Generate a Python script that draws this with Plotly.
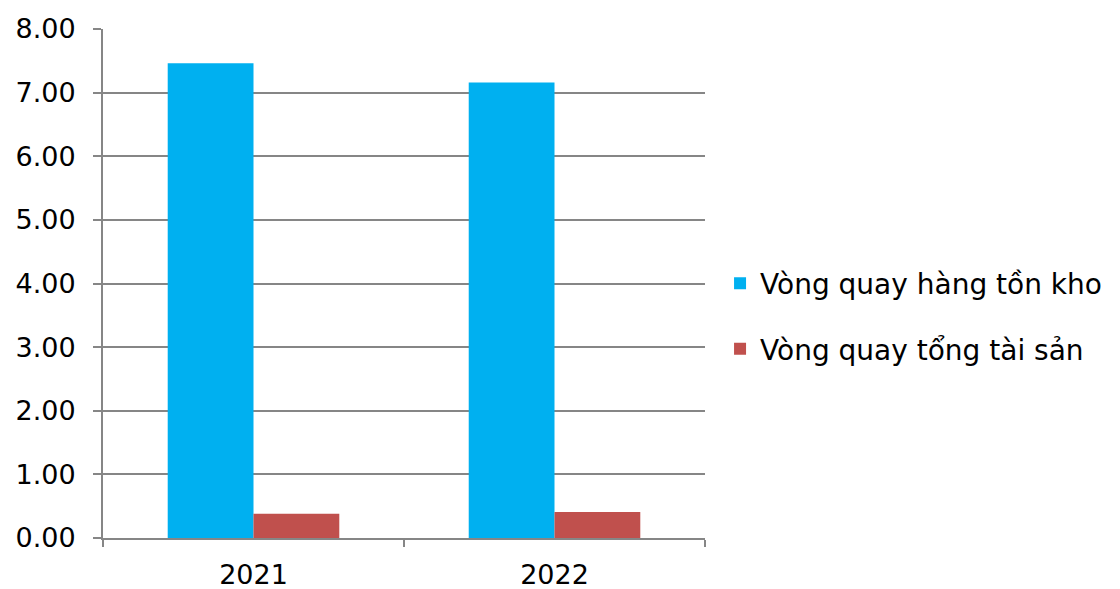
import plotly.graph_objects as go

years = ["2021", "2022"]
inventory_turnover = [7.46, 7.16]
asset_turnover = [0.38, 0.41]
series_names = ["Vòng quay hàng tồn kho", "Vòng quay tổng tài sản"]
y_ticks = [0, 1, 2, 3, 4, 5, 6, 7, 8]
y_tick_labels = ["0.00", "1.00", "2.00", "3.00", "4.00", "5.00", "6.00", "7.00", "8.00"]

fig = go.Figure()
fig.add_trace(go.Bar(x=years, y=inventory_turnover, name=series_names[0],
                     marker=dict(color="#00B0F0", line=dict(width=0)), legendgroup="a"))
fig.add_trace(go.Bar(x=years, y=asset_turnover, name=series_names[1],
                     marker=dict(color="#C0504D", line=dict(width=0)), legendgroup="b"))

fig.update_layout(
    width=1120, height=589,
    margin=dict(l=103, r=415, t=29, b=51, autoexpand=False),
    paper_bgcolor="white", plot_bgcolor="white",
    barmode="group", bargap=0.43, bargroupgap=0,
    font=dict(family="DejaVu Sans", size=27, color="black"),
    showlegend=True,
    legend=dict(x=1.025, xanchor="left", y=0.436, yanchor="middle",
                font=dict(size=28), tracegroupgap=26, bgcolor="rgba(0,0,0,0)"),
    xaxis=dict(type="category", showline=True, linecolor="#868686", linewidth=2,
               ticks="outside", tickson="boundaries", ticklen=7, tickcolor="#868686",
               tickwidth=2, showgrid=False, ticklabelstandoff=12, automargin=False),
    yaxis=dict(range=[0, 8], tickvals=y_ticks, ticktext=y_tick_labels,
               showline=True, linecolor="#868686", linewidth=2,
               ticks="outside", ticklen=8, tickcolor="#868686", tickwidth=2,
               showgrid=True, gridcolor="#868686", gridwidth=2, zeroline=False,
               ticklabelstandoff=12, automargin=False),
)
fig.write_html("out.html")
